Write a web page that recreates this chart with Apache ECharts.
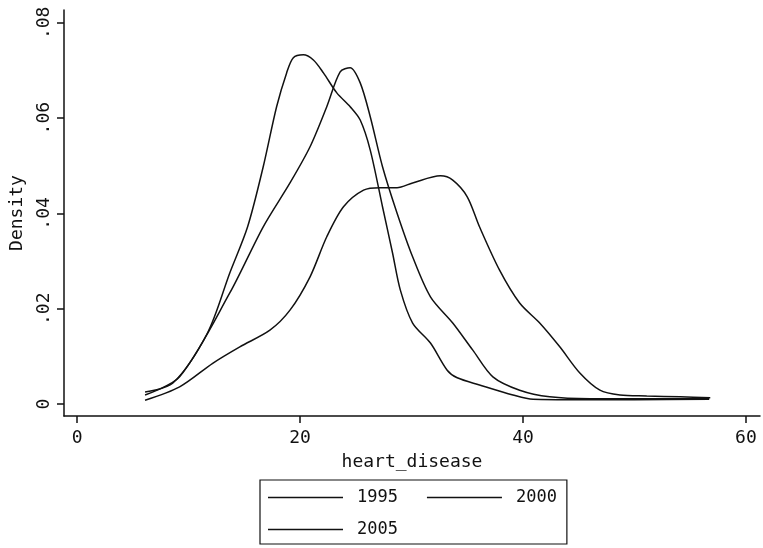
<!DOCTYPE html>
<html>
<head>
<meta charset="utf-8">
<script src="https://cdn.jsdelivr.net/npm/echarts@6/dist/echarts.min.js"></script>
<style>
  html, body { margin: 0; padding: 0; background: #fff; }
  #chart { width: 763px; height: 548px; }
</style>
</head>
<body>
<div id="chart"></div>
<script>
// Kernel density estimates of heart_disease, one curve per year: [x, density]
const density1995 = [
  [6.1, 0.0025], [8.6, 0.0044], [11.7, 0.0149], [13.7, 0.0275], [15.3, 0.0372],
  [16.7, 0.0498], [17.9, 0.0624], [18.8, 0.0695], [19.4, 0.0727], [20.3, 0.0733],
  [21.2, 0.0722], [22.1, 0.0695], [23.3, 0.0653], [24.5, 0.0624], [25.4, 0.0596],
  [26.3, 0.0533], [27.4, 0.0414], [28.3, 0.0317], [29.0, 0.0239], [30.1, 0.0170],
  [31.7, 0.0128], [33.2, 0.0071], [34.1, 0.0055], [36.1, 0.0040], [39.1, 0.0019],
  [40.9, 0.0010], [45.0, 0.0009], [50.0, 0.0009], [56.7, 0.0010]
];
const density2000 = [
  [6.1, 0.0019], [9.2, 0.0057], [13.7, 0.0233], [16.7, 0.0372], [19.1, 0.0464],
  [20.9, 0.0540], [22.4, 0.0624], [23.6, 0.0697], [24.5, 0.0706], [25.4, 0.0674],
  [26.3, 0.0603], [27.4, 0.0498], [28.7, 0.0401], [30.1, 0.0309], [31.7, 0.0225],
  [33.7, 0.0170], [35.5, 0.0113], [37.3, 0.0057], [39.7, 0.0029], [42.4, 0.0015],
  [46.0, 0.0011], [50.0, 0.0011], [56.7, 0.0011]
];
const density2005 = [
  [6.1, 0.0008], [9.2, 0.0036], [12.2, 0.0086], [14.6, 0.0120], [17.3, 0.0155],
  [19.1, 0.0197], [20.9, 0.0267], [22.4, 0.0351], [23.9, 0.0414], [25.7, 0.0449],
  [27.2, 0.0454], [28.7, 0.0454], [30.1, 0.0464], [32.6, 0.0479], [33.7, 0.0470],
  [35.0, 0.0435], [36.1, 0.0372], [37.9, 0.0281], [39.7, 0.0212], [41.5, 0.0170],
  [43.3, 0.0120], [45.1, 0.0065], [46.9, 0.0029], [48.7, 0.0019], [51.1, 0.0017],
  [54.1, 0.0015], [56.8, 0.0013]
];
const years = ['1995', '2000', '2005'];
const xTicks = [0, 20, 40, 60];
const yTicks = [0, 0.02, 0.04, 0.06, 0.08];

const FONT = '"DejaVu Sans Mono", "Liberation Mono", monospace';
const ink = '#111';

function curve(name, data) {
  return {
    name: name,
    type: 'line',
    data: data,
    smooth: 0.3,
    symbol: 'none',
    silent: true,
    lineStyle: { color: ink, width: 1.5 },
    itemStyle: { color: ink }
  };
}

const legendText = {
  fontFamily: FONT, fontSize: 17, color: ink,
  padding: [0, 0, 0, 9]
};

const chart = echarts.init(document.getElementById('chart'), null, { renderer: 'canvas' });
chart.setOption({
  backgroundColor: '#fff',
  animation: false,
  grid: { left: 64, top: 10, right: 3, height: 406, containLabel: false },
  xAxis: {
    type: 'value',
    min: -1.17,
    max: 61.26,
    name: 'heart_disease',
    nameLocation: 'middle',
    nameGap: 37,
    nameTextStyle: { fontFamily: FONT, fontSize: 18, color: ink },
    axisLine: { show: true, onZero: false, lineStyle: { color: ink, width: 1.5 } },
    axisTick: { show: true, length: 7, customValues: xTicks, lineStyle: { color: ink, width: 1.5 } },
    axisLabel: { customValues: xTicks, fontFamily: FONT, fontSize: 18, color: ink, margin: 13 },
    splitLine: { show: false }
  },
  yAxis: {
    type: 'value',
    min: -0.00252,
    max: 0.0827,
    name: 'Density',
    nameLocation: 'middle',
    nameGap: 38,
    nameTextStyle: { fontFamily: FONT, fontSize: 18, color: ink },
    axisLine: { show: true, onZero: false, lineStyle: { color: ink, width: 1.5 } },
    axisTick: { show: true, length: 7, customValues: yTicks, lineStyle: { color: ink, width: 1.5 } },
    axisLabel: {
      customValues: yTicks,
      rotate: 90,
      margin: 11,
      fontFamily: FONT, fontSize: 18, color: ink,
      formatter: function (v) { return v === 0 ? '0' : v.toFixed(2).replace(/^0/, ''); }
    },
    splitLine: { show: false }
  },
  legend: [
    {
      data: [years[0], years[1]],
      left: 260, top: 480,
      orient: 'horizontal',
      icon: 'rect',
      itemWidth: 75, itemHeight: 1.5, itemGap: 29,
      padding: [9, 10, 38, 8],
      borderColor: ink, borderWidth: 1.2,
      selectedMode: false,
      textStyle: legendText
    },
    {
      data: [years[2]],
      left: 268, top: 521,
      orient: 'horizontal',
      icon: 'rect',
      itemWidth: 75, itemHeight: 1.5,
      padding: 0,
      selectedMode: false,
      textStyle: legendText
    }
  ],
  series: [
    curve(years[0], density1995),
    curve(years[1], density2000),
    curve(years[2], density2005)
  ]
});
</script>
</body>
</html>
